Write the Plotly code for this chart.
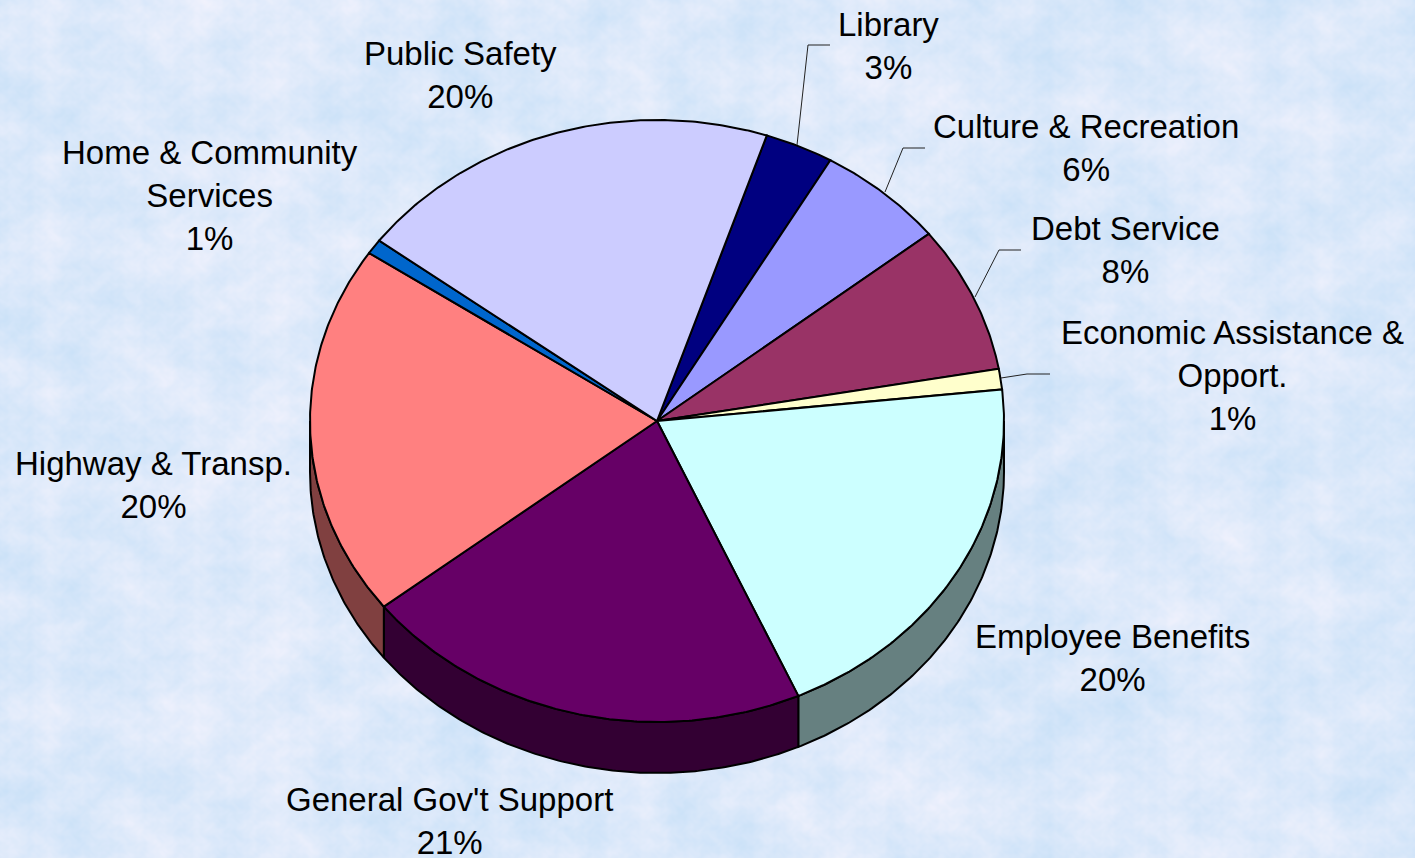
import base64
import struct
import zlib

import numpy as np
import plotly.graph_objects as go

# Data: share of budget (%), clockwise from the Library slice
categories = ["Library", "Culture & Recreation", "Debt Service", "Economic Assistance &<br>Opport.",
              "Employee Benefits", "General Gov't Support", "Highway & Transp.",
              "Home & Community<br>Services", "Public Safety"]
values = [3.2, 6.0, 7.9, 1.1, 20.0, 21.1, 20.0, 0.8, 19.9]
pct_labels = ["3%", "6%", "8%", "1%", "20%", "21%", "20%", "1%", "20%"]

# Styles
top_colors = ["#000080", "#9999FF", "#993366", "#FFFFCC", "#CCFFFF", "#660066", "#FF8080", "#0066CC", "#CCCCFF"]
side_colors = ["#000040", "#4D4D80", "#4D1A33", "#808066", "#668080", "#330033", "#804040", "#003366", "#666680"]
BG = "#DDEBFB"

# Layout of the tilted pie, in page pixels
CX, CY, RX, RY, DEPTH = 657, 421, 347, 301, 51
START_DEG = 18.45
label_x = [888, 1086, 1125, 1232, 1112, 449, 153, 210, 460]
label_y = [46, 148, 250, 375, 658, 821, 485, 195, 75]
leader_x = [[797, 808, 830], [885, 903, 925], [975, 999, 1021], [1001, 1027, 1050]]
leader_y = [[145, 45, 45], [192, 148, 148], [297, 250, 250], [378, 374, 374]]


def paper_texture(w=1415, h=858):
    """Decorative mottled paper backdrop: warped sines, no chart data in it."""
    yy, xx = np.mgrid[0:h, 0:w].astype(float)
    v = np.zeros((h, w))
    for k, (fx, fy, amp) in enumerate([(0.021, 0.027, 1.0), (0.047, 0.039, 0.8), (0.093, 0.107, 0.6),
                                       (0.211, 0.187, 0.4), (0.431, 0.397, 0.25)]):
        v += amp * np.sin(fx * xx + 1.7 * np.sin(fy * yy + k)) * np.sin(fy * yy + 1.7 * np.cos(fx * xx * 0.8 + 2 * k))
    v = (v - v.min()) / (v.max() - v.min())
    low, high = np.array([0xC9, 0xE1, 0xF8]), np.array([0xF1, 0xF2, 0xFD])
    rgb = (low + (high - low) * v[..., None]).astype(np.uint8)
    raw = b"".join(b"\x00" + row.tobytes() for row in rgb)

    def chunk(tag, data):
        return struct.pack(">I", len(data)) + tag + data + struct.pack(">I", zlib.crc32(tag + data))

    png = b"\x89PNG\r\n\x1a\n" + chunk(b"IHDR", struct.pack(">IIBBBBB", w, h, 8, 2, 0, 0, 0)) \
        + chunk(b"IDAT", zlib.compress(raw, 9)) + chunk(b"IEND", b"")
    return "data:image/png;base64," + base64.b64encode(png).decode()


def rim(a0, a1, dy=0):
    t = np.radians(np.linspace(a0, a1, max(int(abs(a1 - a0) * 2), 2)))
    return CX + RX * np.sin(t), CY + dy - RY * np.cos(t)


fig = go.Figure()
edges = START_DEG + np.concatenate([[0], np.cumsum(values)]) * 3.6
line = dict(color="black", width=2)

# Side wall: only the front half of the rim is visible
for i in range(len(values)):
    for shift in (0, 360):
        a0 = max(edges[i], 90 + shift)
        a1 = min(edges[i + 1], 270 + shift)
        if a1 <= a0:
            continue
        xt, yt = rim(a0, a1)
        xb, yb = rim(a1, a0, DEPTH)
        fig.add_trace(go.Scatter(x=np.r_[xt, xb, xt[0]], y=np.r_[yt, yb, yt[0]], mode="lines",
                                 fill="toself", fillcolor=side_colors[i], line=line, hoverinfo="skip"))

# Top face
for i in range(len(values)):
    xt, yt = rim(edges[i], edges[i + 1])
    fig.add_trace(go.Scatter(x=np.r_[CX, xt, CX], y=np.r_[CY, yt, CY], mode="lines",
                             fill="toself", fillcolor=top_colors[i], line=line,
                             name=categories[i].replace("<br>", " "), hoverinfo="name"))

# Leader lines
for lx, ly in zip(leader_x, leader_y):
    fig.add_trace(go.Scatter(x=lx, y=ly, mode="lines", line=dict(color="#222222", width=1), hoverinfo="skip"))

# Labels
for c, p, x, y in zip(categories, pct_labels, label_x, label_y):
    fig.add_annotation(x=x, y=y, text=f"{c}<br>{p}", showarrow=False, xanchor="center", yanchor="middle",
                       align="center", font=dict(family="Liberation Sans", size=33, color="black"))

fig.update_layout(width=1415, height=858, margin=dict(l=0, r=0, t=0, b=0), showlegend=False,
                  paper_bgcolor=BG, plot_bgcolor=BG,
                  images=[dict(source=paper_texture(), xref="paper", yref="paper", x=0, y=1, sizex=1, sizey=1,
                               xanchor="left", yanchor="top", sizing="stretch", layer="below")],
                  xaxis=dict(range=[0, 1415], visible=False, fixedrange=True),
                  yaxis=dict(range=[858, 0], visible=False, fixedrange=True))
fig.write_html("out.html", config={"displayModeBar": False},
               post_script="document.body.style.margin='0';document.body.style.overflow='hidden';"
                           f"document.body.style.background='{BG}';")
